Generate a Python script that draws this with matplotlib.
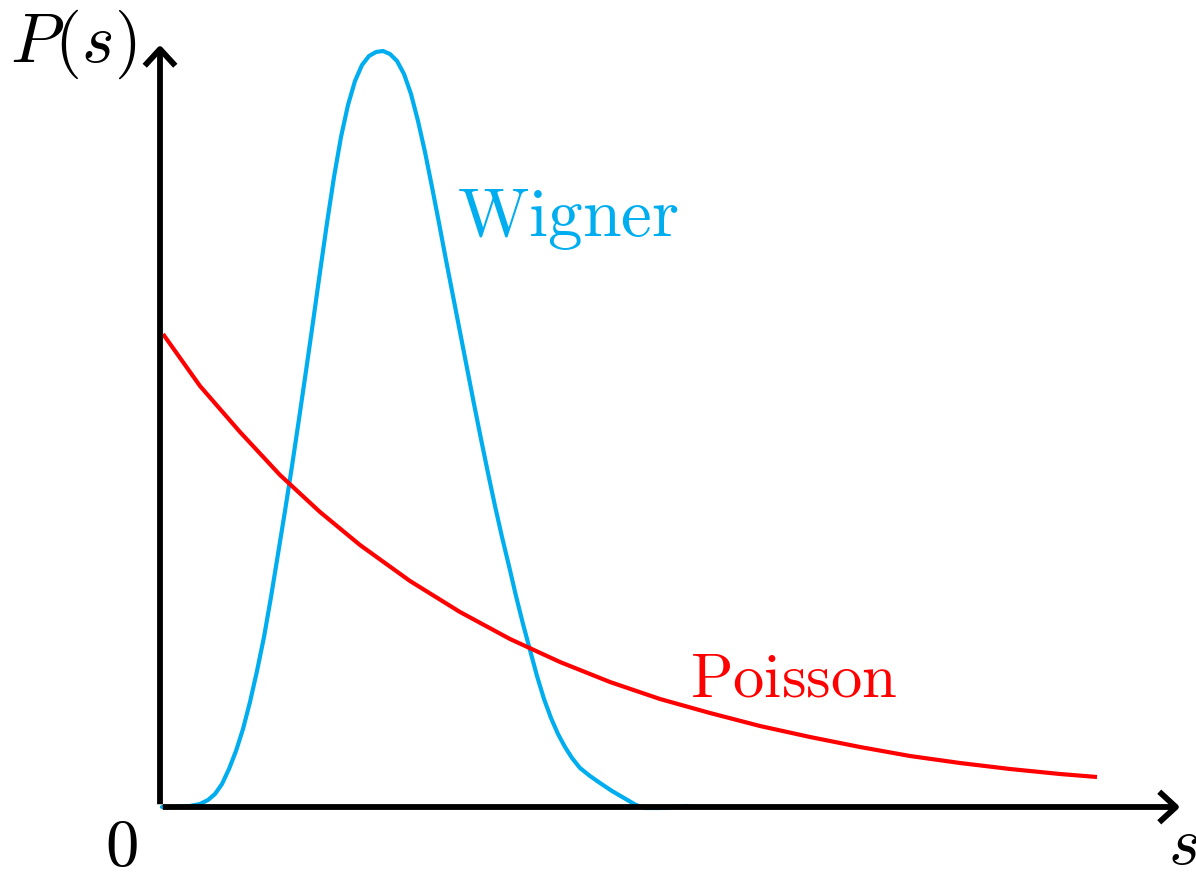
import matplotlib
matplotlib.use('agg')
import matplotlib.pyplot as plt
from matplotlib.patches import FancyArrowPatch

plt.rcParams['mathtext.fontset'] = 'cm'

# sketch units (no scale is shown, so units are arbitrary)
wigner_s = [0.02, 0.15, 0.30, 0.40, 0.48, 0.55, 0.62, 0.69, 0.76, 0.83,
            0.90, 0.97, 1.04, 1.11, 1.18, 1.25, 1.32, 1.39, 1.46, 1.53,
            1.60, 1.67, 1.74, 1.81, 1.88, 1.95, 2.02, 2.09, 2.16, 2.23,
            2.30, 2.37, 2.44, 2.51, 2.58, 2.65, 2.72, 2.79, 2.86, 2.93,
            3.00, 3.07, 3.14, 3.21, 3.28, 3.35, 3.42, 3.49, 3.56, 3.63,
            3.70, 3.77, 3.84, 3.91, 3.98, 4.05, 4.12, 4.20, 4.30, 4.40,
            4.52, 4.64, 4.76, 4.85, 5.00, 5.15, 5.28]
wigner_p = [0.00, 0.00, 0.01, 0.03, 0.07, 0.13, 0.23, 0.38, 0.56, 0.78,
            1.05, 1.36, 1.70, 2.10, 2.53, 2.96, 3.41, 3.88, 4.36, 4.85,
            5.35, 5.84, 6.30, 6.70, 7.02, 7.26, 7.42, 7.51, 7.55, 7.56,
            7.53, 7.46, 7.33, 7.13, 6.86, 6.55, 6.20, 5.84, 5.47, 5.11,
            4.75, 4.39, 4.03, 3.68, 3.34, 3.01, 2.70, 2.41, 2.11, 1.83,
            1.57, 1.31, 1.08, 0.89, 0.73, 0.60, 0.49, 0.39, 0.31, 0.24,
            0.16, 0.09, 0.02, -0.01, -0.01, 0.00, 0.01]

poisson_s = [0.03, 0.40, 0.80, 1.20, 1.60, 2.00, 2.50, 3.00, 3.50, 4.00,
             4.50, 5.00, 5.50, 6.00, 6.50, 7.00, 7.50, 8.00, 8.50, 9.00, 9.37]
poisson_p = [4.73, 4.21, 3.75, 3.32, 2.95, 2.62, 2.26, 1.95, 1.68, 1.45,
             1.25, 1.08, 0.94, 0.81, 0.70, 0.60, 0.51, 0.44, 0.38, 0.33, 0.30]

W, H = 1196, 879
fig = plt.figure(figsize=(W / 100, H / 100), dpi=100)
# origin of the sketch sits at pixel (160, 808)
ax = fig.add_axes([160 / W, 71 / H, 1036 / W, 808 / H])
ax.set_xlim(0, 10.36)
ax.set_ylim(0, 8.08)
ax.axis('off')

cyan = '#00AEEF'
red = '#FF0000'

ax.plot(wigner_s, wigner_p, color=cyan, lw=3.0, solid_capstyle='round',
        solid_joinstyle='round', clip_on=False, zorder=3)
ax.plot(poisson_s, poisson_p, color=red, lw=3.0, solid_capstyle='butt',
        solid_joinstyle='round', clip_on=False, zorder=3)

# axes with open arrow heads
for tip in [(10.23, 0.0), (0.0, 7.65)]:
    arr = FancyArrowPatch((0, 0), tip, arrowstyle='->,head_length=0.6,head_width=0.55',
                          mutation_scale=20, lw=4.2, color='black',
                          capstyle='butt', clip_on=False, zorder=4)
    arr.set_joinstyle('round')
    ax.add_patch(arr)

ax.text(2.97, 5.72, r'$\mathrm{Wigner}$', color=cyan, fontsize=50,
        ha='left', va='baseline')
ax.text(5.30, 1.11, r'$\mathrm{Poisson}$', color=red, fontsize=45,
        ha='left', va='baseline')
ax.text(-1.50, 7.46, r'$P(s)$', color='black', fontsize=50,
        ha='left', va='baseline', clip_on=False)
ax.text(-0.55, -0.58, r'$0$', color='black', fontsize=48,
        ha='left', va='baseline', clip_on=False)
ax.text(10.08, -0.56, r'$s$', color='black', fontsize=48,
        ha='left', va='baseline', clip_on=False)

fig.savefig('out.png', dpi=100)
